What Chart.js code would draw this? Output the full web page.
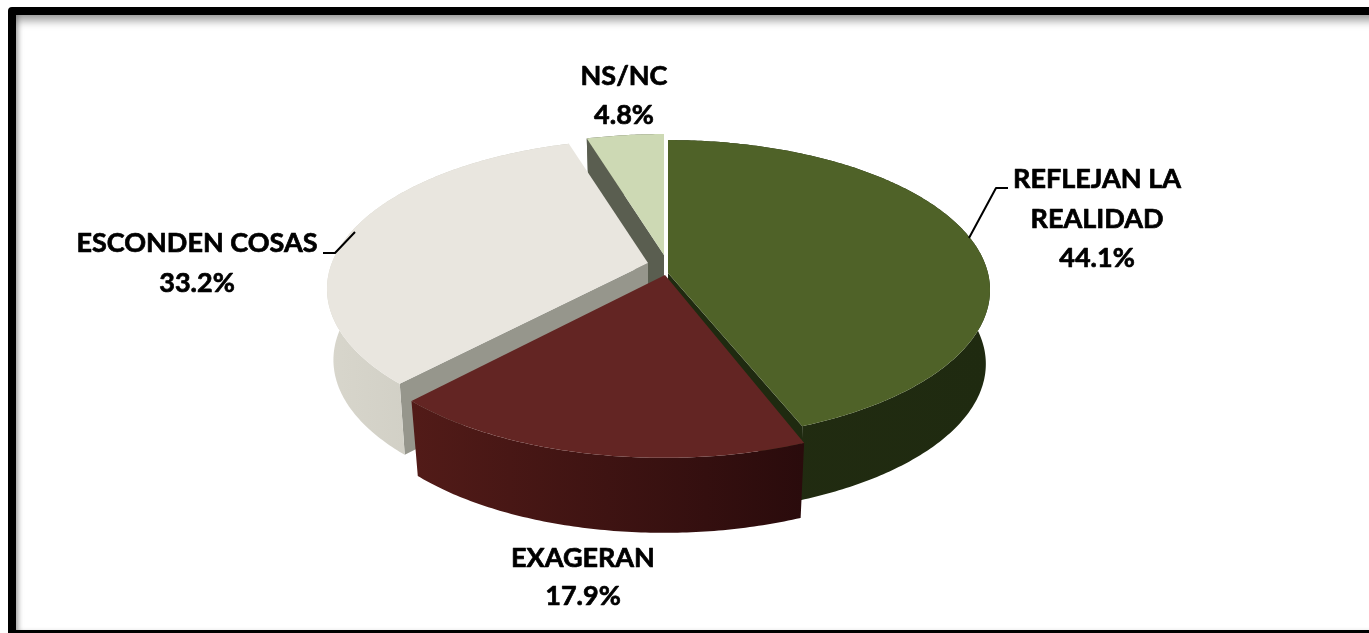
<!DOCTYPE html>
<html><head><meta charset="utf-8">
<style>
html,body{margin:0;padding:0;background:#fff;width:1369px;height:633px;overflow:hidden}
#frame{position:absolute;left:8px;top:7px;width:1420px;height:626px;box-sizing:border-box;border:solid #000;border-width:8px 8px 3px 8px;border-radius:4px 0 0 0;background:#fff;box-shadow:inset 0 7px 9px -1px rgba(0,0,0,.36),inset 4px 0 5px -2px rgba(0,0,0,.25)}
canvas{position:absolute;left:0;top:0}
</style>
<script src="https://cdn.jsdelivr.net/npm/chart.js@4/dist/chart.umd.min.js"></script>
</head><body><div id="frame"></div><canvas id="c" width="1369" height="633"></canvas>
<script>
const categories = ['REFLEJAN LA REALIDAD','EXAGERAN','ESCONDEN COSAS','NS/NC'];
const values = [44.1,17.9,33.2,4.8];
const labelLines = [['REFLEJAN LA','REALIDAD'],['EXAGERAN'],['ESCONDEN COSAS'],['NS/NC']];
const topColors = ['#4F6228','#632523','#E9E6DF','#CDD9B4'];

// appearance of the pseudo-3D pie (per slice)
const looks = [
 {rim:[0,0],   apex:[0,0],    depth:74, warp:0.04, narrow:0.987,wallFrom:'#222C11',wallTo:'#1F2A10',cut:'#1F2A10',cutAt:'end'},
 {rim:[-4,18], apex:[-3,2],   depth:75, warp:0.09, narrow:0.975,wallFrom:'#521B18',wallTo:'#2A0B0C',cut:null},
 {rim:[-19,-1],apex:[-20,-10],depth:71, warp:0.068,narrow:0.98, wallFrom:'#D8D6CC',wallTo:'#C5C4BA',cut:'#96968C',cutAt:'start'},
 {rim:[-4,-6], apex:[-4,-18], depth:60, warp:0.103,narrow:0.975,wallFrom:'#5A5E50',wallTo:'#5A5E50',cut:'#5A5E50',cutAt:'start'}
];
const drawOrder = [3,2,0,1];
const labelSpots = [
 {x:1097,y:188,gap:39.5},{x:583,y:567,gap:38},{x:197,y:252,gap:40},{x:624,y:85,gap:39}
];
const leaders = [[[969,238],[996,188],[1008,188]],null,[[355,232],[335,253],[323,253]],null];
const K=0.113, SX=1.172, SY=0.542;

const pie3d = {
 id:'pie3d',
 beforeDatasetsDraw(chart){
  const ctx=chart.ctx, arcs=chart.getDatasetMeta(0).data;
  const proj=(a,t,warp)=>{ // t clockwise from top
    const th=t-warp*Math.sin(t), u=Math.sin(th), v=-Math.cos(th), w=1-K*v;
    return [a.x+a.outerRadius*SX*u/w, a.y+a.outerRadius*SY*v/w];
  };
  for(const i of drawOrder){
    const a=arcs[i], L=looks[i];
    const t0=a.startAngle+Math.PI/2, t1=a.endAngle+Math.PI/2, n=Math.ceil((t1-t0)/0.012);
    const top=[];
    for(let k=0;k<=n;k++){const p=proj(a,t0+(t1-t0)*k/n,L.warp);top.push([p[0]+L.rim[0],p[1]+L.rim[1]]);}
    const cx=a.x+L.apex[0], cy=a.y+L.apex[1];
    const down=p=>[a.x+L.rim[0]+(p[0]-a.x-L.rim[0])*L.narrow,p[1]+L.depth];
    // cut face
    if(L.cut){
      const e=L.cutAt==='end'?top[top.length-1]:top[0], de=down(e), dc=down([cx,cy]);
      ctx.fillStyle=L.cut;ctx.beginPath();ctx.moveTo(cx,cy);ctx.lineTo(e[0],e[1]);ctx.lineTo(de[0],de[1]);ctx.lineTo(dc[0],dc[1]);ctx.closePath();ctx.fill();
    }
    // outer wall
    let xs=top.map(p=>p[0]);
    const g=ctx.createLinearGradient(Math.min(...xs),0,Math.max(...xs),0);
    g.addColorStop(0,L.wallFrom);g.addColorStop(1,L.wallTo);
    ctx.fillStyle=g;ctx.beginPath();
    top.forEach((p,k)=>k?ctx.lineTo(p[0],p[1]):ctx.moveTo(p[0],p[1]));
    for(let k=top.length-1;k>=0;k--){const d=down(top[k]);ctx.lineTo(d[0],d[1]);}
    ctx.closePath();ctx.fill();
    // top face
    ctx.fillStyle=a.options.backgroundColor;ctx.beginPath();ctx.moveTo(cx,cy);
    top.forEach(p=>ctx.lineTo(p[0],p[1]));ctx.closePath();ctx.fill();
  }
  return false;
 },
 afterDraw(chart){
  const ctx=chart.ctx;
  ctx.save();ctx.fillStyle='#000';ctx.strokeStyle='#000';
  ctx.textAlign='center';ctx.textBaseline='alphabetic';ctx.font='bold 27px Lato';ctx.lineJoin='round';
  values.forEach((v,i)=>{
    const s=labelSpots[i];
    const lines=[...labelLines[i],v.toFixed(1)+'%'];
    ctx.lineWidth=0.7;
    lines.forEach((t,k)=>{ctx.fillText(t,s.x,s.y+k*s.gap);ctx.strokeText(t,s.x,s.y+k*s.gap);});
    const l=leaders[i];
    ctx.lineWidth=2;
    if(l){ctx.beginPath();l.forEach((p,k)=>k?ctx.lineTo(p[0],p[1]):ctx.moveTo(p[0],p[1]));ctx.stroke();}
  });
  ctx.restore();
 }
};

new Chart(document.getElementById('c'),{
 type:'pie',
 data:{labels:categories,datasets:[{data:values,backgroundColor:topColors,borderWidth:0}]},
 options:{responsive:false,animation:false,layout:{padding:{right:33,bottom:87}},
  plugins:{legend:{display:false},tooltip:{enabled:false}}},
 plugins:[pie3d]
});
</script></body></html>
